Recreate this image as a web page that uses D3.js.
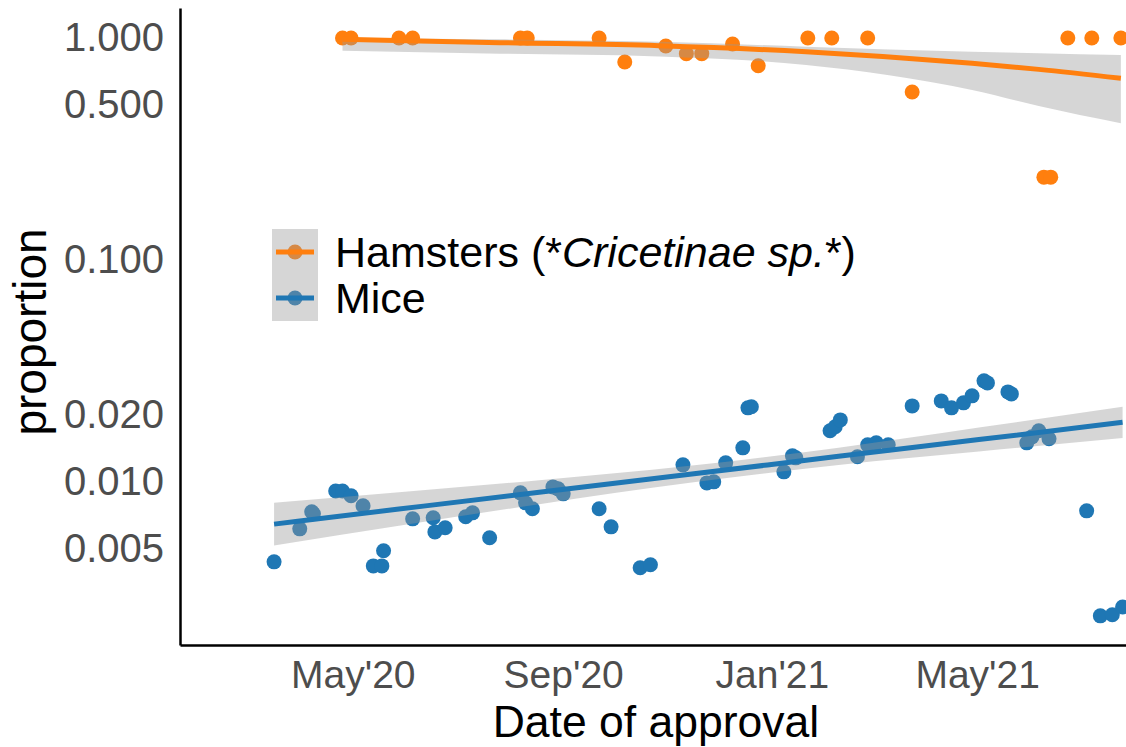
<!DOCTYPE html>
<html>
<head>
<meta charset="utf-8">
<script src="https://cdn.jsdelivr.net/npm/d3@7"></script>
<style>
body { margin: 0; background: #fff; }
text { font-family: "Liberation Sans", Arial, sans-serif; }
</style>
</head>
<body>
<div id="chart"></div>
<script>
// points
var hamsterDates = ["2020-04-25", "2020-04-30", "2020-05-28", "2020-06-05", "2020-08-07", "2020-08-11",
    "2020-09-22", "2020-10-07", "2020-10-31", "2020-11-12", "2020-11-21", "2020-12-09", "2020-12-24",
    "2021-01-22", "2021-02-05", "2021-02-26", "2021-03-24", "2021-06-09", "2021-06-13", "2021-06-23",
    "2021-07-07", "2021-07-24"];
var hamsterValues = [1, 1, 1, 1, 1, 1,
    1, 0.78, 0.92, 0.85, 0.85, 0.94, 0.75,
    1, 1, 1, 0.571, 0.236, 0.236, 1,
    1, 1];

var miceDates = ["2020-03-16", "2020-03-31", "2020-04-07", "2020-04-08", "2020-04-21", "2020-04-25",
    "2020-04-30", "2020-05-07", "2020-05-19", "2020-05-13", "2020-05-18", "2020-06-05", "2020-06-17",
    "2020-06-18", "2020-06-24", "2020-07-06", "2020-07-10", "2020-07-20", "2020-08-07", "2020-08-10",
    "2020-08-14", "2020-08-26", "2020-08-29", "2020-09-01", "2020-09-22", "2020-09-29", "2020-10-16",
    "2020-10-22", "2020-11-10", "2020-11-24", "2020-11-28", "2020-12-05", "2020-12-15", "2020-12-18",
    "2020-12-20", "2021-01-08", "2021-01-13", "2021-01-15", "2021-02-04", "2021-02-07", "2021-02-10",
    "2021-02-20", "2021-02-26", "2021-03-03", "2021-03-10", "2021-03-24", "2021-04-10", "2021-04-16",
    "2021-04-23", "2021-04-28", "2021-05-05", "2021-05-07", "2021-05-19", "2021-05-21", "2021-05-30",
    "2021-06-02", "2021-06-06", "2021-06-12", "2021-07-04", "2021-07-12", "2021-07-19", "2021-07-25"];
var miceValues = [0.00436, 0.00614, 0.00733, 0.00718, 0.0091, 0.0091,
    0.00865, 0.0078, 0.00489, 0.00418, 0.00418, 0.00681, 0.00689,
    0.00595, 0.00621, 0.00696, 0.00725, 0.0056, 0.00892, 0.00804,
    0.00756, 0.00949, 0.0093, 0.00883, 0.00756, 0.00627, 0.0041,
    0.00423, 0.01193, 0.00989, 0.01, 0.01219, 0.01423, 0.02155,
    0.02178, 0.01109, 0.0131, 0.01283, 0.01698, 0.0177, 0.01902,
    0.01297, 0.01468, 0.01499, 0.01468, 0.02199, 0.02316, 0.02155,
    0.0227, 0.0244, 0.02851, 0.02792, 0.02543, 0.02491, 0.01499,
    0.01595, 0.01698, 0.01563, 0.0074, 0.00249, 0.00252, 0.00273];

// smooth fits and their bands
var hamsterFitDates = ["2020-04-25", "2020-07-26", "2020-10-27", "2021-01-21", "2021-04-28", "2021-06-06", "2021-07-24"];
var hamsterFit = [0.987, 0.953, 0.923, 0.867, 0.769, 0.722, 0.658];
var hamsterUpper = [0.997, 0.986, 0.962, 0.914, 0.867, 0.853, 0.838];
var hamsterLower = [0.877, 0.85, 0.826, 0.756, 0.583, 0.494, 0.413];

var miceFitDates = ["2020-03-16", "2020-05-28", "2020-08-18", "2020-11-14", "2021-02-09", "2021-05-02", "2021-07-25"];
var miceFit = [0.00645, 0.00754, 0.00898, 0.01081, 0.01303, 0.0155, 0.01854];
var miceUpper = [0.00804, 0.00897, 0.01017, 0.01181, 0.01424, 0.01756, 0.02179];
var miceLower = [0.00517, 0.00634, 0.00793, 0.0099, 0.01192, 0.01369, 0.01576];

var seriesNames = ["Hamsters", "Mice"];
var seriesColors = ["#ff7f0e", "#1f77b4"];
var yTicks = [1, 0.5, 0.1, 0.02, 0.01, 0.005];
var xTicks = ["2020-05-01", "2020-09-01", "2021-01-01", "2021-05-01"];

var svgWidth = 1126;
var svgHeight = 747;
var margin = { top: 8, right: 0, bottom: 102, left: 180 };
var width = svgWidth - margin.left - margin.right;
var height = svgHeight - margin.top - margin.bottom;

var parseDate = d3.utcParse("%Y-%m-%d");

var svg = d3.select("#chart")
    .append("svg")
    .attr("width", svgWidth)
    .attr("height", svgHeight);

var chartGroup = svg.append("g")
    .attr("transform", `translate(${margin.left}, ${margin.top})`);

var xScale = d3.scaleUtc()
    .domain([parseDate("2020-01-21"), parseDate("2021-07-27")])
    .range([0, width]);

var yScale = d3.scaleLog()
    .domain([0.00184, 1.365])
    .range([height, 0]);

function zipPoints(dates, values) {
    return dates.map((d, i) => ({ date: parseDate(d), value: values[i] }));
}
function zipBand(dates, fit, lo, hi) {
    return dates.map((d, i) => ({ date: parseDate(d), fit: fit[i], lo: lo[i], hi: hi[i] }));
}

var series = [
    { name: seriesNames[0], color: seriesColors[0], points: zipPoints(hamsterDates, hamsterValues),
      band: zipBand(hamsterFitDates, hamsterFit, hamsterLower, hamsterUpper) },
    { name: seriesNames[1], color: seriesColors[1], points: zipPoints(miceDates, miceValues),
      band: zipBand(miceFitDates, miceFit, miceLower, miceUpper) }
];

// points first, then ribbons over them, then the fit lines
series.forEach(function(s) {
    chartGroup.append("g")
        .selectAll("circle")
        .data(s.points)
        .enter()
        .append("circle")
        .attr("cx", d => xScale(d.date))
        .attr("cy", d => yScale(d.value))
        .attr("r", 7.5)
        .attr("fill", s.color);
});

var area = d3.area()
    .x(d => xScale(d.date))
    .y0(d => yScale(d.lo))
    .y1(d => yScale(d.hi))
    .curve(d3.curveMonotoneX);

var line = d3.line()
    .x(d => xScale(d.date))
    .y(d => yScale(d.fit))
    .curve(d3.curveMonotoneX);

series.forEach(function(s) {
    chartGroup.append("path")
        .datum(s.band)
        .attr("d", area)
        .attr("fill", "#999999")
        .attr("fill-opacity", 0.4);
});

series.forEach(function(s) {
    chartGroup.append("path")
        .datum(s.band)
        .attr("d", line)
        .attr("fill", "none")
        .attr("stroke", s.color)
        .attr("stroke-width", 5);
});

// axes
var bottomAxis = d3.axisBottom(xScale)
    .tickValues(xTicks.map(parseDate))
    .tickFormat(d3.utcFormat("%b'%y"))
    .tickSize(0)
    .tickPadding(15);

var leftAxis = d3.axisLeft(yScale)
    .tickValues(yTicks)
    .tickFormat(d3.format(".3f"))
    .tickSize(0)
    .tickPadding(16);

var xAxisG = chartGroup.append("g")
    .attr("transform", `translate(0, ${height})`)
    .call(bottomAxis);

var yAxisG = chartGroup.append("g")
    .call(leftAxis);

[xAxisG, yAxisG].forEach(function(g) {
    g.select(".domain").attr("stroke", "#000").attr("stroke-width", 2.5);
    g.selectAll("text")
        .attr("fill", "#4d4d4d")
        .style("font-size", "40px");
});
xAxisG.selectAll("text").style("font-size", "39px");

// axis titles
svg.append("text")
    .attr("x", margin.left + width / 2 + 3)
    .attr("y", 737)
    .attr("text-anchor", "middle")
    .style("font-size", "44.5px")
    .text("Date of approval");

svg.append("text")
    .attr("transform", "translate(46, 332) rotate(-90)")
    .attr("text-anchor", "middle")
    .style("font-size", "46px")
    .text("proportion");

// legend
var legend = svg.append("g")
    .attr("transform", "translate(272, 229)");

series.forEach(function(s, i) {
    var key = legend.append("g")
        .attr("transform", `translate(0, ${i * 46})`);
    key.append("circle")
        .attr("cx", 23)
        .attr("cy", 23)
        .attr("r", 7.5)
        .attr("fill", s.color);
    key.append("rect")
        .attr("width", 46)
        .attr("height", 46)
        .attr("fill", "#999999")
        .attr("fill-opacity", 0.4);
    key.append("line")
        .attr("x1", 4)
        .attr("x2", 42)
        .attr("y1", 23)
        .attr("y2", 23)
        .attr("stroke", s.color)
        .attr("stroke-width", 5);
});

var hamsterLabel = legend.append("text")
    .attr("x", 63)
    .attr("y", 23)
    .attr("dy", "0.35em")
    .style("font-size", "43px");
hamsterLabel.append("tspan").text(seriesNames[0] + " (*");
hamsterLabel.append("tspan").style("font-style", "italic").text("Cricetinae sp.");
hamsterLabel.append("tspan").text("*)");

legend.append("text")
    .attr("x", 63)
    .attr("y", 69)
    .attr("dy", "0.35em")
    .style("font-size", "43px")
    .text(seriesNames[1]);
</script>
</body>
</html>
